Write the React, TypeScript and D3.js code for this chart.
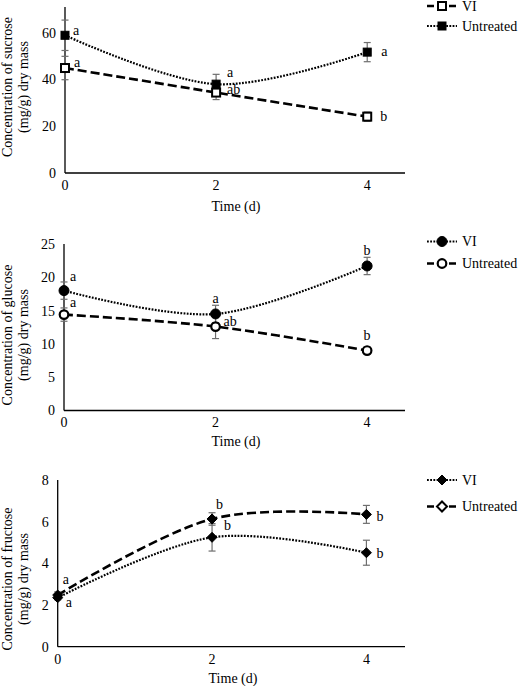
import React from "react";
import * as d3 from "d3";

const days = [0, 2, 4];
const xTickLabels = ["0", "2", "4"];

const sucroseVI = [44.9, 34.4, 24.1];
const sucroseVIErr = [5, 3, 2];
const sucroseUntreated = [58.9, 38.0, 51.7];
const sucroseUntreatedErr = [6.5, 4.2, 4.1];
const sucroseTicks = [0, 20, 40, 60];

const glucoseVI = [18.0, 14.5, 21.7];
const glucoseVIErr = [1.3, 1.3, 1.3];
const glucoseUntreated = [14.4, 12.6, 9.0];
const glucoseUntreatedErr = [1.0, 1.8, 0.5];
const glucoseTicks = [0, 5, 10, 15, 20, 25];

const fructoseVI = [2.35, 5.25, 4.51];
const fructoseVIErr = [0.1, 0.66, 0.6];
const fructoseUntreated = [2.48, 6.13, 6.35];
const fructoseUntreatedErr = [0.15, 0.3, 0.43];
const fructoseTicks = [0, 2, 4, 6, 8];

const sucroseVILetters = ["a", "ab", "b"];
const sucroseUntreatedLetters = ["a", "a", "a"];
const glucoseVILetters = ["a", "a", "b"];
const glucoseUntreatedLetters = ["a", "ab", "b"];
const fructoseVILetters = ["a", "b", "b"];
const fructoseUntreatedLetters = ["a", "b", "b"];

const FONT = "Liberation Serif, Times New Roman, Times, serif";
const FS = 14;

type Offset = { dx: number; dy: number; anchor: "start" | "middle" };
type Series = {
  name: string;
  values: number[];
  errors: number[];
  letters: string[];
  offsets: Offset[];
  marker: "square" | "circle" | "diamond";
  filled: boolean;
  legendFilled: boolean;
  dash: "dashed" | "dotted";
};
type Panel = {
  title: string;
  yMax: number;
  yTicks: number[];
  xRange: [number, number];
  yRange: [number, number];
  legendY: [number, number];
  titleCenter: number;
  timeX: number;
  timeDy: number;
  series: Series[];
};

const panels: Panel[] = [
  {
    title: "Concentration of sucrose",
    yMax: 71,
    yTicks: sucroseTicks,
    xRange: [65, 405],
    yRange: [173, 7],
    legendY: [6, 26],
    titleCenter: 87,
    timeX: 236,
    timeDy: 33,
    series: [
      {
        name: "VI",
        values: sucroseVI,
        errors: sucroseVIErr,
        letters: sucroseVILetters,
        offsets: [
          { dx: 9, dy: -5, anchor: "start" },
          { dx: 11, dy: -3, anchor: "start" },
          { dx: 13, dy: 0, anchor: "start" },
        ],
        marker: "square",
        filled: false,
        legendFilled: false,
        dash: "dashed",
      },
      {
        name: "Untreated",
        values: sucroseUntreated,
        errors: sucroseUntreatedErr,
        letters: sucroseUntreatedLetters,
        offsets: [
          { dx: 8, dy: -4, anchor: "start" },
          { dx: 11, dy: -11, anchor: "start" },
          { dx: 14, dy: 0, anchor: "start" },
        ],
        marker: "square",
        filled: true,
        legendFilled: true,
        dash: "dotted",
      },
    ],
  },
  {
    title: "Concentration of glucose",
    yMax: 25,
    yTicks: glucoseTicks,
    xRange: [64, 405],
    yRange: [410.5, 244],
    legendY: [241.5, 263.5],
    titleCenter: 335,
    timeX: 236,
    timeDy: 31,
    series: [
      {
        name: "VI",
        values: glucoseVI,
        errors: glucoseVIErr,
        letters: glucoseVILetters,
        offsets: [
          { dx: 6, dy: -14, anchor: "start" },
          { dx: 0, dy: -15, anchor: "middle" },
          { dx: 0, dy: -15, anchor: "middle" },
        ],
        marker: "circle",
        filled: true,
        legendFilled: true,
        dash: "dotted",
      },
      {
        name: "Untreated",
        values: glucoseUntreated,
        errors: glucoseUntreatedErr,
        letters: glucoseUntreatedLetters,
        offsets: [
          { dx: 6, dy: -12, anchor: "start" },
          { dx: 8, dy: -5, anchor: "start" },
          { dx: 0, dy: -15, anchor: "middle" },
        ],
        marker: "circle",
        filled: false,
        legendFilled: false,
        dash: "dashed",
      },
    ],
  },
  {
    title: "Concentration of fructose",
    yMax: 8,
    yTicks: fructoseTicks,
    xRange: [57.7, 405],
    yRange: [646.7, 480],
    legendY: [480, 506.5],
    titleCenter: 579,
    timeX: 233,
    timeDy: 31,
    series: [
      {
        name: "VI",
        values: fructoseVI,
        errors: fructoseVIErr,
        letters: fructoseVILetters,
        offsets: [
          { dx: 8, dy: 5, anchor: "start" },
          { dx: 12, dy: -12, anchor: "start" },
          { dx: 10, dy: 1, anchor: "start" },
        ],
        marker: "diamond",
        filled: true,
        legendFilled: true,
        dash: "dotted",
      },
      {
        name: "Untreated",
        values: fructoseUntreated,
        errors: fructoseUntreatedErr,
        letters: fructoseUntreatedLetters,
        offsets: [
          { dx: 5, dy: -15, anchor: "start" },
          { dx: 4, dy: -14, anchor: "start" },
          { dx: 10, dy: 2, anchor: "start" },
        ],
        marker: "diamond",
        filled: true,
        legendFilled: false,
        dash: "dashed",
      },
    ],
  },
];

const dashStyle = {
  dashed: { width: 2.6, array: "9,4" },
  dotted: { width: 2.2, array: "1.8,1.4" },
};

function Marker({ kind, x, y, filled }: { kind: string; x: number; y: number; filled: boolean }) {
  const fill = filled ? "#000" : "#fff";
  if (kind === "square") {
    return <rect x={x - 4} y={y - 4} width={8} height={8} fill={fill} stroke="#000" strokeWidth={filled ? 1 : 2} />;
  }
  if (kind === "circle") {
    return <circle cx={x} cy={y} r={filled ? 5 : 4.3} fill={fill} stroke="#000" strokeWidth={filled ? 1 : 2.2} />;
  }
  const s = 5;
  return (
    <path
      d={`M${x},${y - s}L${x + s},${y}L${x},${y + s}L${x - s},${y}Z`}
      fill={fill}
      stroke="#000"
      strokeWidth={filled ? 1 : 2}
    />
  );
}

function PanelView({ p }: { p: Panel }) {
  const x = d3.scaleLinear().domain([0, 4.5]).range(p.xRange);
  const y = d3.scaleLinear().domain([0, p.yMax]).range(p.yRange);
  const line = d3
    .line<number>()
    .x((_, i) => x(days[i]))
    .y((v) => y(v))
    .curve(d3.curveCardinal.tension(0));
  const x0 = p.xRange[0];
  const y0 = p.yRange[0];
  return (
    <g>
      <line x1={x0} x2={x0} y1={p.yRange[1]} y2={y0} stroke="#000" strokeWidth={1.3} />
      <line x1={x0} x2={p.xRange[1]} y1={y0} y2={y0} stroke="#000" strokeWidth={1.3} />
      {p.yTicks.map((t) => (
        <text key={t} x={x0 - 9} y={y(t)} dy="0.35em" textAnchor="end">
          {t}
        </text>
      ))}
      {days.map((d, i) => (
        <text key={d} x={x(d)} y={y0 + 12} dy="0.35em" textAnchor="middle">
          {xTickLabels[i]}
        </text>
      ))}
      <text x={p.timeX} y={y0 + p.timeDy} dy="0.35em" textAnchor="middle">
        Time (d)
      </text>
      <g transform={`translate(12,${p.titleCenter}) rotate(-90)`}>
        <text x={0} y={0} textAnchor="middle">
          {p.title}
        </text>
        <text x={0} y={15.5} textAnchor="middle">
          (mg/g) dry mass
        </text>
      </g>
      {p.series.map((s) => (
        <path
          key={s.name + "l"}
          d={line(s.values) || ""}
          fill="none"
          stroke="#000"
          strokeWidth={dashStyle[s.dash].width}
          strokeDasharray={dashStyle[s.dash].array}
        />
      ))}
      {p.series.map((s) =>
        s.values.map((v, i) => {
          const cx = x(days[i]);
          const yt = y(v + s.errors[i]);
          const yb = y(v - s.errors[i]);
          return (
            <g key={s.name + "e" + i} stroke="#6e6e6e" strokeWidth={1.2}>
              <line x1={cx} x2={cx} y1={yt} y2={yb} />
              <line x1={cx - 3.5} x2={cx + 3.5} y1={yt} y2={yt} />
              <line x1={cx - 3.5} x2={cx + 3.5} y1={yb} y2={yb} />
            </g>
          );
        })
      )}
      {p.series.map((s) =>
        s.values.map((v, i) => (
          <Marker key={s.name + "m" + i} kind={s.marker} x={x(days[i])} y={y(v)} filled={s.filled} />
        ))
      )}
      {p.series.map((s) =>
        s.values.map((v, i) => (
          <text
            key={s.name + "t" + i}
            x={x(days[i]) + s.offsets[i].dx}
            y={y(v) + s.offsets[i].dy}
            dy="0.3em"
            textAnchor={s.offsets[i].anchor}
          >
            {s.letters[i]}
          </text>
        ))
      )}
      {p.series.map((s, i) => {
        const ly = p.legendY[i];
        return (
          <g key={s.name + "leg"}>
            <line
              x1={427}
              x2={457}
              y1={ly}
              y2={ly}
              stroke="#000"
              strokeWidth={dashStyle[s.dash].width}
              strokeDasharray={s.dash === "dashed" ? "7,4" : dashStyle[s.dash].array}
            />
            <Marker kind={s.marker} x={442} y={ly} filled={s.legendFilled} />
            <text x={462} y={ly} dy="0.33em">
              {s.name}
            </text>
          </g>
        );
      })}
    </g>
  );
}

export default function App() {
  return (
    <svg
      width={518}
      height={686}
      style={{ position: "absolute", left: 0, top: 0, background: "#fff", fontFamily: FONT, fontSize: FS }}
    >
      <rect width={518} height={686} fill="#fff" />
      {panels.map((p) => (
        <PanelView key={p.title} p={p} />
      ))}
    </svg>
  );
}
